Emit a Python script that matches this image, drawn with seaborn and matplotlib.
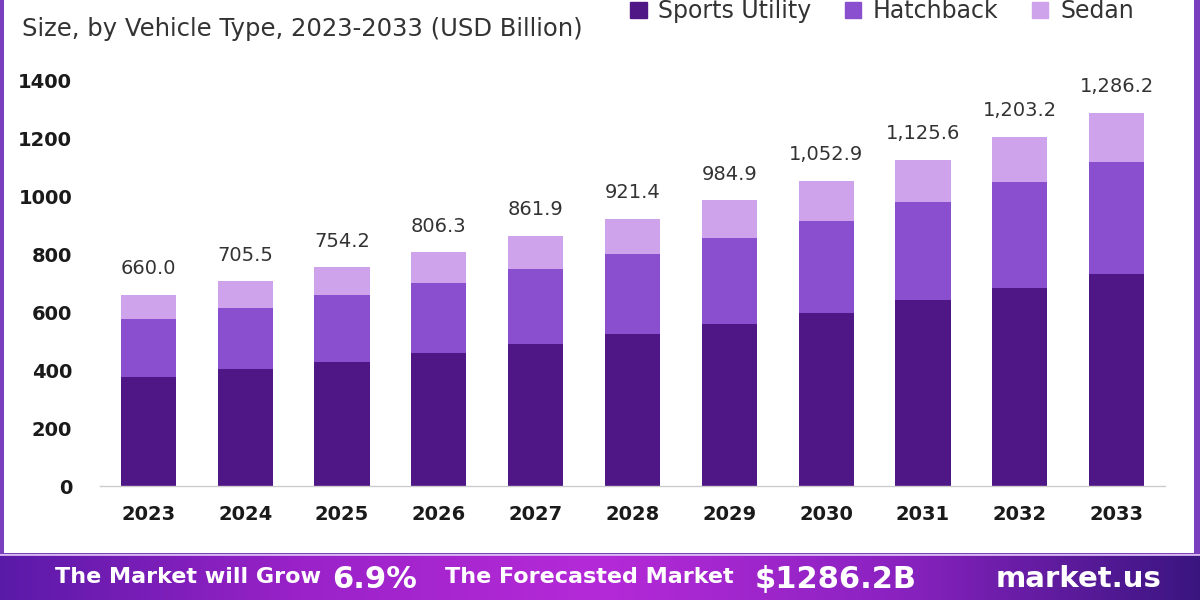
import numpy as np
import pandas as pd
import matplotlib.pyplot as plt
import seaborn as sns
from matplotlib.patches import Rectangle, Patch
from matplotlib.colors import LinearSegmentedColormap

years = ["2023", "2024", "2025", "2026", "2027", "2028", "2029", "2030", "2031", "2032", "2033"]
sports_utility = [375, 402, 429, 458, 490, 523, 559, 598, 641, 684, 731]
hatchback = [202, 211, 230, 241, 257, 276, 297, 316, 339, 363, 387]
sedan = [83.0, 92.5, 95.2, 107.3, 114.9, 122.4, 128.9, 138.9, 145.6, 156.2, 168.2]
totals = [660.0, 705.5, 754.2, 806.3, 861.9, 921.4, 984.9, 1052.9, 1125.6, 1203.2, 1286.2]

segments = ["Sports Utility", "Hatchback", "Sedan"]
colors = ["#4f1686", "#8a4fcf", "#cfa3ec"]

df = pd.DataFrame({"year": years, "Sports Utility": sports_utility,
                   "Hatchback": hatchback, "Sedan": sedan})
df["cum_su"] = df["Sports Utility"]
df["cum_hb"] = df["cum_su"] + df["Hatchback"]
df["cum_sd"] = df["cum_hb"] + df["Sedan"]

sns.set_theme(style="white")
plt.rcParams["font.family"] = ["DejaVu Sans"]

fig = plt.figure(figsize=(12, 6), dpi=100)
fig.patch.set_facecolor("#7a3fbf")

# white card behind everything
fig.patches.append(Rectangle((4 / 1200, 47 / 600), 1190 / 1200, 1, transform=fig.transFigure,
                             facecolor="white", edgecolor="none", zorder=-5))

# bottom banner with gradient
bax = fig.add_axes([0, 0, 1, 46 / 600])
cmap = LinearSegmentedColormap.from_list("banner", ["#5a1aa8", "#9a22c8", "#b52ad8", "#8a22c0", "#3a1580"])
bax.imshow(np.linspace(0, 1, 256)[None, :], aspect="auto", cmap=cmap, extent=[0, 1, 0, 1])
bax.axhline(1, color="#d9b8f0", lw=2)
bax.set_xlim(0, 1)
bax.set_ylim(0, 1)
bax.axis("off")
bax.text(0.046, 0.5, "The Market will Grow", color="white", fontsize=16, fontweight="bold",
         ha="left", va="center")
bax.text(0.277, 0.45, "6.9%", color="white", fontsize=22, fontweight="bold", ha="left", va="center")
bax.text(0.371, 0.5, "The Forecasted Market", color="white", fontsize=16, fontweight="bold",
         ha="left", va="center")
bax.text(0.629, 0.45, "$1286.2B", color="white", fontsize=22, fontweight="bold", ha="left", va="center")
bax.text(0.83, 0.45, "market.us", color="white", fontsize=21, fontweight="bold",
         ha="left", va="center")

ax = fig.add_axes([100 / 1200, 1 - 486 / 600, 1065 / 1200, 406 / 600])
ax.set_facecolor("none")

# stacked bars drawn back to front
bar_kw = dict(width=0.57, ax=ax, saturation=1, linewidth=0, edgecolor="none")
sns.barplot(data=df, x="year", y="cum_sd", color=colors[2], label="Sedan", **bar_kw)
sns.barplot(data=df, x="year", y="cum_hb", color=colors[1], label="Hatchback", **bar_kw)
sns.barplot(data=df, x="year", y="cum_su", color=colors[0], label="Sports Utility", **bar_kw)

for i, t in enumerate(totals):
    ax.annotate(f"{t:,.1f}", (i, df["cum_sd"][i]), xytext=(0, 12), textcoords="offset points",
                ha="center", va="bottom", fontsize=14, color="#333333", annotation_clip=False)

ax.set_ylim(0, 1400)
ax.set_yticks(range(0, 1401, 200))
ax.set_xlabel("")
ax.set_ylabel("")
ax.tick_params(axis="y", labelsize=14, pad=20, length=0)
ax.tick_params(axis="x", labelsize=14, pad=14, length=0)
for lab in ax.get_yticklabels() + ax.get_xticklabels():
    lab.set_fontweight("bold")
    lab.set_color("#1a1a1a")
for s in ["top", "right", "left"]:
    ax.spines[s].set_visible(False)
ax.spines["bottom"].set_color("#cccccc")
ax.spines["bottom"].set_linewidth(1)
if ax.get_legend():
    ax.get_legend().remove()

handles = [Patch(color=c) for c in colors]
fig.legend(handles, segments, loc="upper center", bbox_to_anchor=(0.735, 1.005), ncol=3, frameon=False,
           fontsize=17, handlelength=0.7, handleheight=0.7, columnspacing=1.4, handletextpad=0.5,
           labelcolor="#333333", borderaxespad=0, borderpad=0.1)

fig.text(22 / 1200, 1 - 29 / 600, "Size, by Vehicle Type, 2023-2033 (USD Billion)", fontsize=17.5,
         color="#333333", ha="left", va="center")

fig.savefig("out.png", dpi=100, facecolor=fig.get_facecolor())
